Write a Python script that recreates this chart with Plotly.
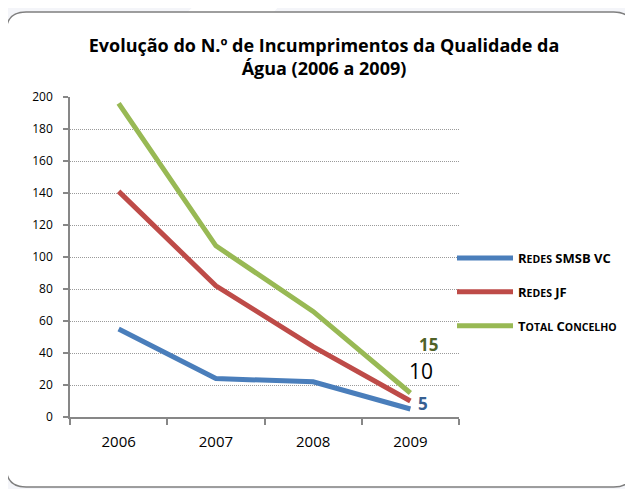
import plotly.graph_objects as go

years = ["2006", "2007", "2008", "2009"]
redes_smsb = [55, 24, 22, 5]
redes_jf = [141, 82, 44, 10]
total_concelho = [196, 107, 66, 15]
y_ticks = [0, 20, 40, 60, 80, 100, 120, 140, 160, 180, 200]

OFF = 8  # page body margin in the browser
W, H = 633 - OFF, 489 - OFF
L, R, T, B = 70 - OFF, 460 - OFF, 97 - OFF, 417 - OFF
FONT = "Open Sans"

def px(x):
    return (x - OFF - L) / (R - L)

def py(y):
    return (B - (y - OFF)) / (B - T)

def sc(text):
    # small-caps emulation
    out = []
    for word in text.split(" "):
        if len(word) > 2 and word not in ("SMSB",):
            out.append(word[0] + '<span style="font-size:10.5px">' + word[1:] + '</span>')
        else:
            out.append(word)
    return "<b>" + " ".join(out) + "</b>"

fig = go.Figure()
series = [
    ("REDES SMSB VC", redes_smsb, "#4a7ebb"),
    ("REDES JF", redes_jf, "#be4b48"),
    ("TOTAL CONCELHO", total_concelho, "#98b954"),
]
for i, (name, vals, col) in enumerate(series):
    fig.add_trace(go.Scatter(
        x=years, y=vals, mode="lines", name=sc(name),
        line=dict(color=col, width=5), legendgroup=str(i),
    ))

# data labels for 2009
fig.add_annotation(x=3, y=total_concelho[3], xref="x", yref="y", text="<b>15</b>", showarrow=False,
                   xshift=18, yshift=49, font=dict(family=FONT, size=17, color="#4f6228"))
fig.add_annotation(x=3, y=redes_jf[3], xref="x", yref="y", text="10", showarrow=False,
                   xshift=11, yshift=30, font=dict(family=FONT, size=21, color="#000000"))
fig.add_annotation(x=3, y=redes_smsb[3], xref="x", yref="y", text="<b>5</b>", showarrow=False,
                   xshift=13, yshift=6, font=dict(family=FONT, size=17, color="#376092"))

def rrect(x0, y0, x1, y1, r):
    return (f"M {px(x0+r)},{py(y0)} L {px(x1-r)},{py(y0)} "
            f"Q {px(x1)},{py(y0)} {px(x1)},{py(y0+r)} L {px(x1)},{py(y1-r)} "
            f"Q {px(x1)},{py(y1)} {px(x1-r)},{py(y1)} L {px(x0+r)},{py(y1)} "
            f"Q {px(x0)},{py(y1)} {px(x0)},{py(y1-r)} L {px(x0)},{py(y0+r)} "
            f"Q {px(x0)},{py(y0)} {px(x0+r)},{py(y0)} Z")

shapes = [
    dict(type="path", xref="paper", yref="paper", layer="below",
         path=f"M {px(200)},{py(0)} L {px(285)},{py(0)} L {px(160)},{py(140)} L {px(60)},{py(140)} Z",
         fillcolor="#ffffff", line=dict(width=0)),
    dict(type="path", xref="paper", yref="paper", layer="below",
         path=rrect(6, 12, 635, 487, 20),
         fillcolor="#ffffff", line=dict(color="#7f7f7f", width=1.5)),
]

fig.update_layout(
    width=W, height=H,
    margin=dict(l=L, r=W - R, t=T, b=H - B, pad=0),
    paper_bgcolor="#f4f5f9", plot_bgcolor="rgba(0,0,0,0)",
    font=dict(family=FONT, color="#000000"),
    title=dict(text="<b>Evolução do N.º de Incumprimentos da Qualidade da<br>Água (2006 a 2009)</b>",
               x=(324 - OFF) / W, xref="container", xanchor="center",
               y=1 - (52 - OFF) / H, yref="container", yanchor="top",
               font=dict(family=FONT, size=18, color="#000000")),
    showlegend=True,
    legend=dict(x=px(452), y=py(243), xanchor="left", yanchor="top",
                font=dict(family=FONT, size=13, color="#000000"),
                itemwidth=56, traceorder="grouped", tracegroupgap=14,
                bgcolor="rgba(0,0,0,0)"),
    shapes=shapes,
)

fig.update_xaxes(type="category", range=[-0.5, 3.5], tickson="boundaries",
                 ticks="outside", ticklen=6, tickcolor="#878787", tickwidth=1.5,
                 showline=True, linecolor="#878787", linewidth=1.5, showgrid=False,
                 ticklabelstandoff=10,
                 tickfont=dict(family=FONT, size=15, color="#000000"), zeroline=False)
fig.update_yaxes(range=[0, 200], tickvals=y_ticks, ticks="outside", ticklen=5,
                 tickcolor="#878787", tickwidth=1.5, showline=True, linecolor="#878787",
                 linewidth=1.5, showgrid=True, gridcolor="#9a9a9a", griddash="1px,1px",
                 gridwidth=1, zeroline=False, ticklabelstandoff=8,
                 tickfont=dict(family=FONT, size=12, color="#000000"))

fig.write_html("out.html")
